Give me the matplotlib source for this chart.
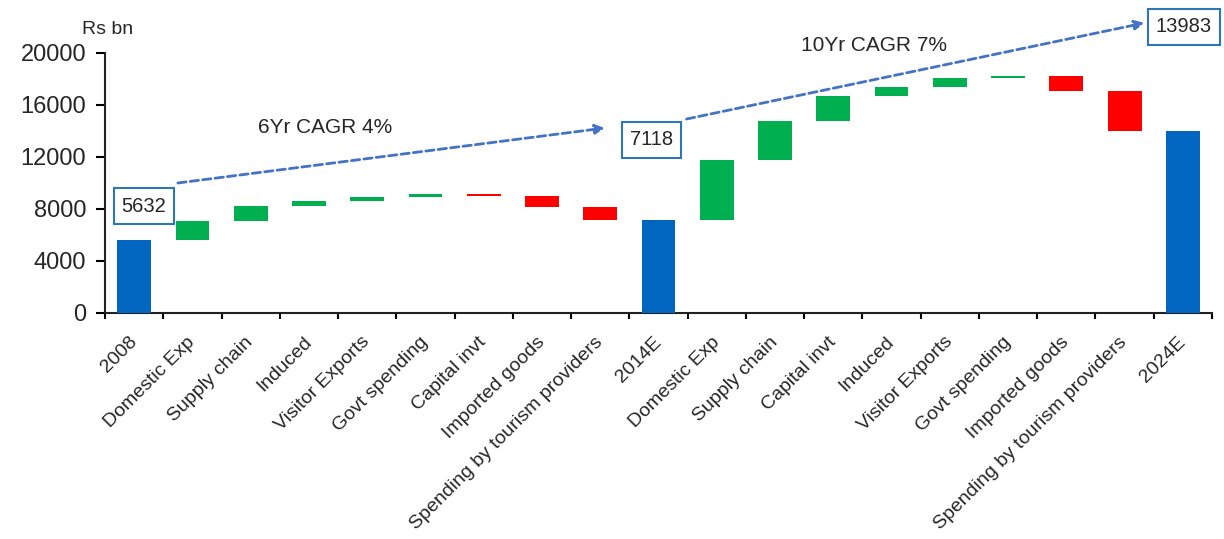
import numpy as np
import matplotlib.pyplot as plt

plt.rcParams['font.family'] = ['Liberation Sans', 'DejaVu Sans']

# Tourism contribution bridge, Rs bn
categories = ['2008', 'Domestic Exp', 'Supply chain', 'Induced', 'Visitor Exports',
              'Govt spending', 'Capital invt', 'Imported goods',
              'Spending by tourism providers', '2014E',
              'Domestic Exp', 'Supply chain', 'Capital invt', 'Induced',
              'Visitor Exports', 'Govt spending', 'Imported goods',
              'Spending by tourism providers', '2024E']
total_2008 = 5632
deltas_2014 = [1470, 1150, 370, 330, 180, -150, -800, -1064]
total_2014 = 7118
deltas_2024 = [4650, 3000, 1950, 690, 640, 200, -1150, -3115]
total_2024 = 13983

BLUE = '#0066C0'
GREEN = '#00B050'
RED = '#FF0000'
LINE = '#4472C4'
TEXT = '#262626'

# build bottoms / heights for the waterfall
bottoms, heights, colors = [], [], []
for start, deltas, end in [(total_2008, deltas_2014, total_2014),
                           (total_2014, deltas_2024, total_2024)]:
    if not bottoms:
        bottoms.append(0)
        heights.append(start)
        colors.append(BLUE)
    level = start
    for d in deltas:
        bottoms.append(level)
        heights.append(d)
        colors.append(GREEN if d > 0 else RED)
        level += d
    bottoms.append(0)
    heights.append(end)
    colors.append(BLUE)

x = np.arange(len(categories))

fig = plt.figure(figsize=(12.24, 5.39), dpi=100)
ax = fig.add_axes([0.0858, 0.4193, 0.9044, 0.4824])

ax.bar(x, heights, bottom=bottoms, width=0.58, color=colors, zorder=3)

ax.set_xlim(-0.5, len(categories) - 0.5)
ax.set_ylim(0, 20000)
ax.set_yticks(range(0, 20001, 4000))
ax.tick_params(axis='y', direction='out', length=6.5, width=1.5, pad=7,
               labelsize=17, labelcolor=TEXT)

# ticks between bars, labels under bar centres
ax.set_xticks(np.arange(-0.5, len(categories), 1))
ax.set_xticklabels([])
ax.set_xticks(x, minor=True)
ax.set_xticklabels(categories, minor=True, rotation=45, ha='right',
                   va='center', rotation_mode='anchor')
ax.tick_params(axis='x', which='major', direction='out', length=4, width=1.5)
ax.tick_params(axis='x', which='minor', length=0, pad=19, labelsize=14,
               labelcolor=TEXT)

for side in ['top', 'right']:
    ax.spines[side].set_visible(False)
for side in ['left', 'bottom']:
    ax.spines[side].set_linewidth(1.5)
    ax.spines[side].set_color('#222222')

ax.text(-0.45, 21800, 'Rs bn', ha='center', va='center', fontsize=14,
        color=TEXT, clip_on=False)

# value boxes and CAGR arrows
box = dict(boxstyle='square,pad=0.4', fc='white', ec='#2E75B6', lw=1.5)
ax.text(0.17, 8230, f'{total_2008}', ha='center', va='center', fontsize=14.5,
        color=TEXT, bbox=box, zorder=5, clip_on=False)
ax.text(8.88, 13310, f'{total_2014}', ha='center', va='center', fontsize=14.5,
        color=TEXT, bbox=box, zorder=5, clip_on=False)
ax.text(18.02, 22000, f'{total_2024}', ha='center', va='center', fontsize=14.5,
        color=TEXT, bbox=box, zorder=5, clip_on=False)

arrow = dict(arrowstyle='-|>', color=LINE, lw=2, ls=(0, (3, 1.5)),
             mutation_scale=14, shrinkA=0, shrinkB=0)
ax.annotate('', xy=(8.08, 14230), xytext=(0.75, 10000), arrowprops=arrow,
            annotation_clip=False)
ax.annotate('', xy=(17.34, 22310), xytext=(9.48, 14920), arrowprops=arrow,
            annotation_clip=False)

ax.text(3.27, 14230, '6Yr CAGR 4%', ha='center', va='center', fontsize=15,
        color=TEXT)
ax.text(12.69, 20540, '10Yr CAGR 7%', ha='center', va='center', fontsize=15,
        color=TEXT, clip_on=False)

fig.savefig('out.png', dpi=100)
